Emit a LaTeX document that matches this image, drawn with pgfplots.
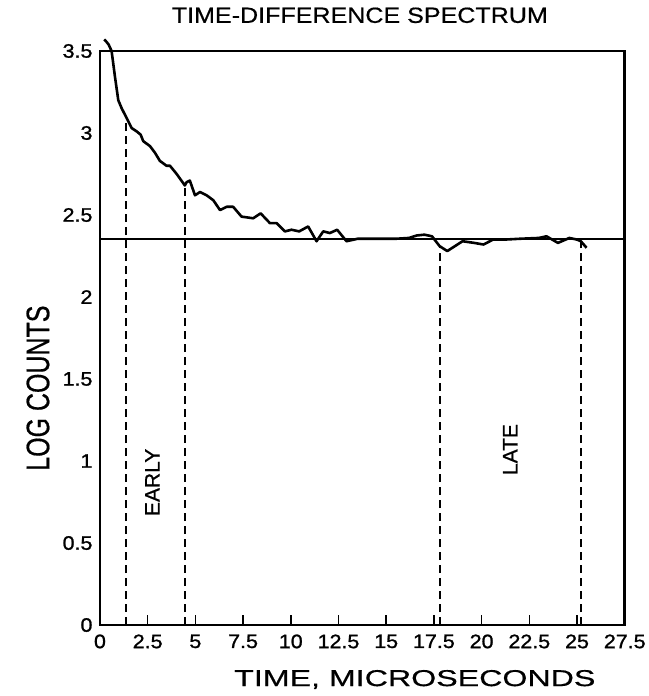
\documentclass[border=0pt]{standalone}
\usepackage{fontspec}
\setmainfont{Liberation Sans}
\newfontfamily\titlefont[FakeStretch=1.14,FakeBold=0.6]{Liberation Sans}
\newfontfamily\labelfont[FakeStretch=1.40,FakeBold=0.5]{Liberation Sans}
\newfontfamily\tickfont[FakeStretch=1.10,FakeBold=1.2]{Liberation Sans}
\newfontfamily\notefont[FakeBold=0.6]{Liberation Sans}
\usepackage{graphicx}
\usepackage{pgfplots}
\pgfplotsset{compat=1.18}

\begin{document}
\begin{tikzpicture}[x=1pt,y=1pt]
% page frame: the axis box spans (0,0)--(525,574.3)
\path (-100,-71) rectangle (549,625.3);
\begin{axis}[
  anchor=south west,
  scale only axis, width=525pt, height=574.3pt,
  xmin=0, xmax=27.5, ymin=0, ymax=3.5,
  clip=false,
  axis line style={line width=2.5pt},
  xtick={0,2.5,5,7.5,10,12.5,15,17.5,20,22.5,25,27.5},
  xticklabels={0,2.5,5,7.5,10,12.5,15,17.5,20,22.5,25,27.5},
  ytick={0,0.5,1,1.5,2,2.5,3,3.5},
  yticklabels={0,0.5,1,1.5,2,2.5,3,3.5},
  tick align=inside, xtick pos=bottom, ytick pos=left,
  major tick length=10pt,
  xtick style={line width=1.6pt, black},
  ytick style={draw=none},
  tick label style={font=\tickfont\fontsize{19.5}{19.5}\selectfont},
  xticklabel style={yshift=-6pt},
  yticklabel style={xshift=-4pt},
]
% reference level
\addplot[black, line width=2.5pt] coordinates {(0,2.355) (27.5,2.355)};

% measured spectrum
\addplot[black, line width=2.6pt, line join=round] coordinates {
 (0.22,3.57) (0.31,3.56) (0.45,3.54) (0.61,3.50) (0.79,3.34) (0.96,3.20)
 (1.14,3.15) (1.36,3.10) (1.66,3.03) (1.92,3.01) (2.13,2.99) (2.27,2.95)
 (2.62,2.92) (2.88,2.88) (3.14,2.83) (3.49,2.80) (3.67,2.80) (4.02,2.75)
 (4.45,2.68) (4.54,2.70) (4.71,2.71) (4.98,2.62) (5.24,2.64) (5.59,2.62)
 (5.94,2.59) (6.29,2.53) (6.64,2.55) (6.98,2.55) (7.42,2.49) (8.03,2.48)
 (8.42,2.51) (8.91,2.45) (9.26,2.45) (9.69,2.40) (10.04,2.41) (10.44,2.40)
 (10.91,2.43) (11.35,2.34) (11.70,2.40) (12.05,2.39) (12.43,2.41) (12.92,2.34)
 (13.5,2.355) (14.5,2.355) (15.5,2.355) (16.2,2.36) (16.6,2.375) (17.0,2.38)
 (17.4,2.37) (17.8,2.31) (18.2,2.28) (18.6,2.31) (19.0,2.34) (19.6,2.33)
 (20.1,2.32) (20.6,2.35) (21.2,2.35) (22.0,2.355) (23.0,2.36) (23.4,2.37)
 (24.0,2.33) (24.6,2.36) (25.0,2.35) (25.2,2.34) (25.5,2.30)
};

% window boundaries
\addplot[black, line width=2.2pt, dash pattern=on 8pt off 5pt] coordinates {(1.36,0) (1.36,3.10)};
\addplot[black, line width=2.2pt, dash pattern=on 8pt off 5pt] coordinates {(4.45,0) (4.45,2.68)};
\addplot[black, line width=2.2pt, dash pattern=on 8pt off 5pt] coordinates {(17.8,0) (17.8,2.31)};
\addplot[black, line width=2.2pt, dash pattern=on 8pt off 5pt] coordinates {(25.2,0) (25.2,2.34)};

\node[rotate=90, font=\notefont\fontsize{21}{21}\selectfont] at (axis cs:2.75,0.87) {EARLY};
\node[rotate=90, font=\notefont\fontsize{21}{21}\selectfont] at (axis cs:21.5,1.07) {LATE};
\end{axis}

\node at (260,610) {\titlefont\fontsize{22}{22}\selectfont TIME-DIFFERENCE SPECTRUM};
\node at (315,-54.5) {\labelfont\fontsize{23}{23}\selectfont TIME, MICROSECONDS};
\node at (-62,237) {\rotatebox{90}{\scalebox{1}[1.3]{\notefont\fontsize{25}{25}\selectfont LOG COUNTS}}};
\end{tikzpicture}
\end{document}
